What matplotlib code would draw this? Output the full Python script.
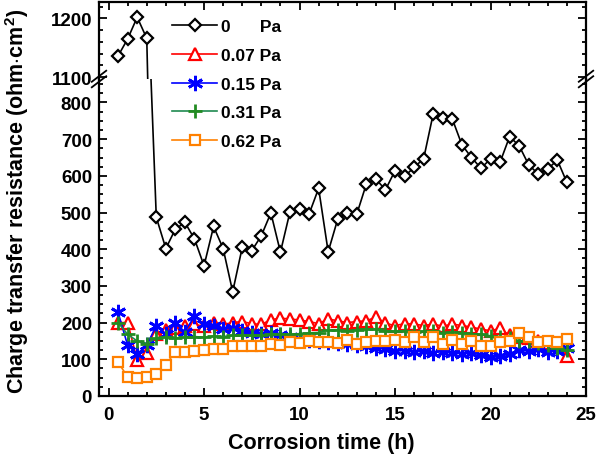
import matplotlib
matplotlib.use("Agg")
import matplotlib.pyplot as plt
from matplotlib.ticker import MultipleLocator

plt.rcParams['font.family'] = ['Liberation Sans', 'DejaVu Sans']
plt.rcParams['font.weight'] = 'bold'
plt.rcParams['mathtext.fontset'] = 'custom'
plt.rcParams['mathtext.rm'] = 'Liberation Sans:bold'
plt.rcParams['mathtext.bf'] = 'Liberation Sans:bold'
plt.rcParams['mathtext.default'] = 'bf'

# corrosion time (h)
time_h = [0.5, 1.0, 1.5, 2.0, 2.5, 3.0, 3.5, 4.0, 4.5, 5.0, 5.5, 6.0,
          6.5, 7.0, 7.5, 8.0, 8.5, 9.0, 9.5, 10.0, 10.5, 11.0, 11.5, 12.0,
          12.5, 13.0, 13.5, 14.0, 14.5, 15.0, 15.5, 16.0, 16.5, 17.0, 17.5, 18.0,
          18.5, 19.0, 19.5, 20.0, 20.5, 21.0, 21.5, 22.0, 22.5, 23.0, 23.5, 24.0]

# charge transfer resistance (ohm cm^2)
r_0pa = [1136, 1165, 1202, 1166, 487, 402, 455, 473, 428, 355, 462, 402,
         284, 405, 396, 437, 499, 392, 502, 510, 496, 566, 393, 482,
         499, 496, 578, 591, 562, 614, 599, 623, 647, 769, 757, 755,
         685, 650, 621, 646, 637, 707, 682, 630, 605, 619, 643, 582]
r_007pa = [200, 200, 98, 118, 170, 180, 185, 190, 195, 190, 200, 195,
           200, 203, 197, 195, 208, 212, 210, 207, 203, 197, 210, 205,
           200, 203, 205, 215, 198, 192, 197, 196, 192, 196, 190, 196,
           192, 188, 182, 178, 184, 165, 160, 158, 150, 145, 140, 108]
r_015pa = [228, 138, 115, 138, 192, 168, 198, 175, 218, 195, 190, 183,
           185, 176, 172, 170, 173, 165, 160, 155, 152, 150, 148, 145,
           142, 138, 136, 132, 128, 122, 124, 120, 122, 118, 121, 117,
           115, 118, 112, 105, 108, 115, 125, 122, 128, 120, 124, 130]
r_031pa = [200, 168, 150, 143, 158, 162, 158, 160, 162, 160, 163, 162,
           165, 165, 165, 165, 168, 168, 168, 170, 172, 173, 180, 180,
           177, 180, 183, 182, 178, 176, 178, 175, 176, 176, 172, 174,
           172, 170, 168, 164, 160, 158, 150, 150, 145, 138, 132, 125]
r_062pa = [92, 52, 48, 52, 60, 85, 121, 121, 123, 126, 128, 128,
           135, 135, 135, 137, 142, 140, 148, 145, 151, 148, 146, 144,
           153, 142, 146, 151, 151, 153, 148, 160, 146, 160, 142, 153,
           142, 151, 137, 137, 148, 151, 172, 160, 146, 151, 146, 155]

labels = ['0      Pa', '0.07 Pa', '0.15 Pa', '0.31 Pa', '0.62 Pa']

fig = plt.figure(figsize=(6, 4.6), dpi=100)
left, width = 99 / 600, 487 / 600
ax_lo = fig.add_axes([left, 63 / 460, width, 317 / 460])
ax_hi = fig.add_axes([left, 380 / 460, width, 77 / 460], sharex=ax_lo)

for ax in (ax_hi, ax_lo):
    ax.plot(time_h, r_0pa, color='black', lw=1.2, marker='D', ms=6.5,
            mfc='white', mec='black', mew=1.6, zorder=6)
    ax.plot(time_h, r_007pa, color='red', lw=1.2, marker='^', ms=8.5,
            mfc='white', mec='red', mew=1.6, zorder=3)
    ax.plot(time_h, r_015pa, color='blue', lw=1.2, marker=(6, 2, 0), ms=11,
            mec='blue', mew=2.0, zorder=4)
    ax.plot(time_h, r_031pa, color='#1f8a50', lw=1.2, marker='+', ms=9.5,
            mec='#228b22', mew=2.0, zorder=4)
    ax.plot(time_h, r_062pa, color='#ff8000', lw=1.2, marker='s', ms=6.5,
            mfc='white', mec='#ff8000', mew=1.6, zorder=5)
    ax.set_xlim(-0.5, 25)
    ax.xaxis.set_major_locator(MultipleLocator(5))
    ax.xaxis.set_minor_locator(MultipleLocator(1))
    ax.tick_params(which='both', direction='in', top=True, right=True,
                   labelsize=13.5, width=1.3)
    ax.tick_params(which='major', length=5.5)
    ax.tick_params(which='minor', length=3)
    ax.tick_params(axis='x', pad=7)
    ax.tick_params(axis='y', pad=5)
    for s in ax.spines.values():
        s.set_linewidth(1.6)

ax_lo.set_ylim(0, 864)
ax_lo.yaxis.set_major_locator(MultipleLocator(100))
ax_lo.yaxis.set_minor_locator(MultipleLocator(25))
ax_lo.set_yticks([0, 100, 200, 300, 400, 500, 600, 700, 800])
ax_lo.spines['top'].set_visible(False)
ax_lo.tick_params(which='both', top=False)

ax_hi.set_ylim(1096.6, 1228)
ax_hi.yaxis.set_major_locator(MultipleLocator(100))
ax_hi.yaxis.set_minor_locator(MultipleLocator(20))
ax_hi.spines['bottom'].set_visible(False)
ax_hi.tick_params(which='both', bottom=False, labelbottom=False)

# break marks on the y axis
yb = 80 / 460
for xb in (left, left + width):
    for dy in (-0.006, 0.006):
        fig.add_artist(plt.Line2D([xb - 0.012, xb + 0.012],
                                  [1 - yb + dy - 0.012, 1 - yb + dy + 0.012],
                                  color='black', lw=1.3))

fig.text(0.535, 0.036, 'Corrosion time (h)', ha='center', va='center',
         fontsize=15.5, fontweight='bold')
fig.text(0.028, 0.562, 'Charge transfer resistance (ohm$\\cdot$cm$^2$)',
         rotation=90, ha='center', va='center', fontsize=15.5, fontweight='bold')

handles = ax_lo.get_lines()
fig.legend(handles, labels, loc='upper left', bbox_to_anchor=(0.287, 0.956),
           frameon=False, borderpad=0, borderaxespad=0, handlelength=2.6,
           handletextpad=0.2, labelspacing=0.78,
           prop={'size': 12.5, 'weight': 'bold'})

fig.savefig('out.png', dpi=100)
